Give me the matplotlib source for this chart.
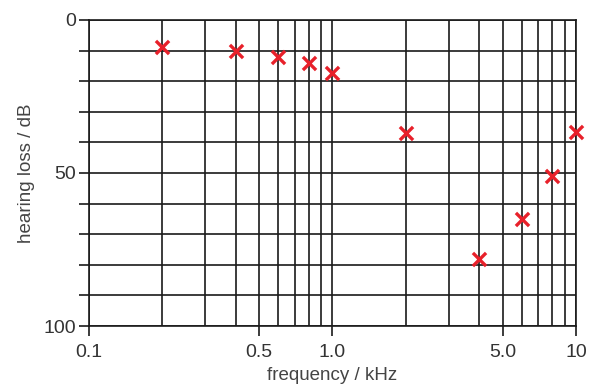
import matplotlib
matplotlib.use("Agg")
from matplotlib import pyplot as plt
from matplotlib.ticker import FixedLocator, NullFormatter, FixedFormatter
import numpy as np

freq_khz = [0.2, 0.4, 0.6, 0.8, 1.0, 2.0, 4.0, 6.0, 8.0, 10.0]
loss_db = [9, 10, 12, 14, 17.5, 37, 78, 65, 51, 36.5]

x_labels_at = [0.1, 0.5, 1.0, 5.0, 10.0]
x_labels = ["0.1", "0.5", "1.0", "5.0", "10"]
y_labels_at = [0, 50, 100]
y_labels = ["0", "50", "100"]

plt.rcParams['font.family'] = ['Liberation Sans', 'DejaVu Sans']

fig = plt.figure(figsize=(5.89, 3.9), dpi=100)
ax = fig.add_axes([0.151, 0.164, 0.827, 0.785])

ax.set_xscale("log")
ax.set_xlim(0.1, 10)
ax.set_ylim(100, 0)

# grid at every 1..9 of each decade, and every 10 dB
xgrid = [m * d for d in (0.1, 1.0) for m in range(1, 10)] + [10.0]
for xv in xgrid:
    ax.axvline(xv, color="#1a1a1a", lw=1.2, zorder=1)
for yv in range(0, 101, 10):
    ax.axhline(yv, color="#1a1a1a", lw=1.2, zorder=1)

ax.scatter(freq_khz, loss_db, marker="x", s=90, color="#e8202a", linewidths=2.4, zorder=3, clip_on=False)

ax.xaxis.set_major_locator(FixedLocator(x_labels_at))
ax.xaxis.set_major_formatter(FixedFormatter(x_labels))
ax.xaxis.set_minor_locator(FixedLocator([]))
ax.xaxis.set_minor_formatter(NullFormatter())
ax.yaxis.set_major_locator(FixedLocator(y_labels_at))
ax.yaxis.set_major_formatter(FixedFormatter(y_labels))
ax.yaxis.set_minor_locator(FixedLocator(list(range(10, 100, 10))))

ax.tick_params(axis="both", which="both", direction="out", length=7, width=1.2,
               color="#1a1a1a", labelsize=14, labelcolor="#333333")
ax.tick_params(axis="x", pad=6)
ax.tick_params(axis="y", pad=2)

for s in ax.spines.values():
    s.set_color("#1a1a1a")
    s.set_linewidth(1.2)

ax.set_xlabel("frequency / kHz", fontsize=13.5, color="#444444", labelpad=4)
ax.set_ylabel("hearing loss / dB", fontsize=13.5, color="#444444", labelpad=6)

fig.savefig("out.png", dpi=100)
